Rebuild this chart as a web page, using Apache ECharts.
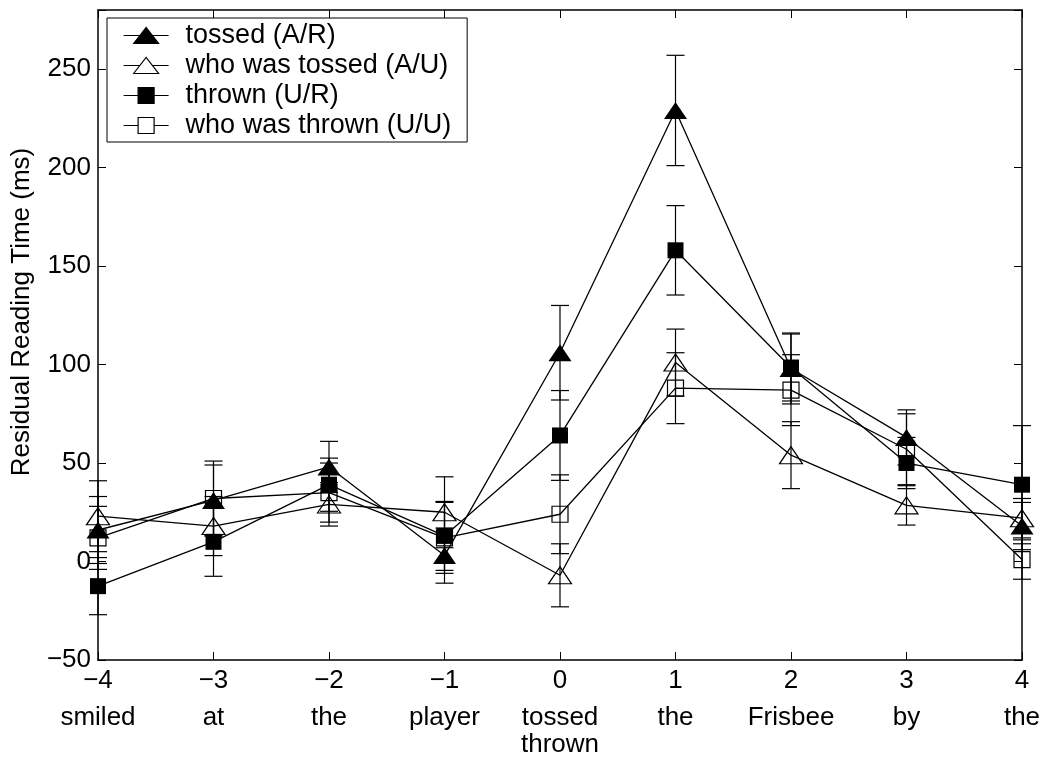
<!DOCTYPE html>
<html>
<head>
<meta charset="utf-8">
<script src="https://cdn.jsdelivr.net/npm/echarts@6/dist/echarts.min.js"></script>
<style>
  html, body { margin: 0; padding: 0; background: #fff; }
  #chart { width: 1047px; height: 762px; }
</style>
</head>
<body>
<div id="chart"></div>
<script>
// Posizioni nella frase e parole sotto l'asse
const positions = [-4, -3, -2, -1, 0, 1, 2, 3, 4];
const words = ['smiled', 'at', 'the', 'player', 'tossed\nthrown', 'the', 'Frisbee', 'by', 'the'];

// Medie e barre d'errore
const tossedAR = [16, 31, 48, 3, 106, 229, 98, 63, 18];
const tossedARErr = [17, 18, 13, 14, 24, 28, 18, 14, 12];
const whoTossedAU = [23, 18, 29, 25, -7, 101, 54, 28.5, 22];
const whoTossedAUErr = [18, 15, 11, 18, 16, 17, 17, 10, 10];
const thrownUR = [-12.5, 10, 39, 13, 64, 158, 98.5, 50, 39];
const thrownURErr = [14.5, 17.5, 13.5, 17.5, 22.8, 22.7, 17, 13, 30];
const whoThrownUU = [12, 32, 35, 12, 24, 88, 87, 57, 1];
const whoThrownUUErr = [16, 19, 15, 18, 20, 18, 18, 18, 10];

const FONT = "'Liberation Sans', Arial, sans-serif";
const minus = v => String(v).replace('-', '\u2212');

// Icone della legenda: linea + simbolo
const icons = {
  triFilled: 'path://M0 8L45 8M10 16L22.5 0L35 16Z',
  triOpen: 'path://M0 8L16.25 8M28.75 8L45 8M10 16L22.5 0L35 16Z',
  sqFilled: 'path://M0 8L45 8M14.5 0L30.5 0L30.5 16L14.5 16Z',
  sqOpen: 'path://M0 8L14.5 8M30.5 8L45 8M14.5 0L30.5 0L30.5 16L14.5 16Z'
};

function lineSeries(name, values, symbol, size, filled) {
  return {
    name,
    type: 'line',
    data: positions.map((x, i) => [x, values[i]]),
    symbol,
    symbolSize: size,
    showAllSymbol: true,
    lineStyle: { color: '#000', width: 1.3 },
    itemStyle: {
      color: filled ? '#000' : 'rgba(255,255,255,0)',
      borderColor: '#000',
      borderWidth: filled ? 0 : 1.2
    },
    emphasis: { disabled: true },
    z: 3
  };
}

function errorSeries(values, errs) {
  return {
    type: 'custom',
    data: positions.map((x, i) => [x, values[i], errs[i]]),
    encode: { x: 0, y: 1 },
    silent: true,
    z: 2,
    renderItem: (params, api) => {
      const x = api.value(0), y = api.value(1), e = api.value(2);
      const hi = api.coord([x, y + e]);
      const lo = api.coord([x, y - e]);
      const cap = 9;
      const style = { stroke: '#000', lineWidth: 1.2 };
      return {
        type: 'group',
        children: [
          { type: 'line', shape: { x1: hi[0], y1: hi[1], x2: lo[0], y2: lo[1] }, style },
          { type: 'line', shape: { x1: hi[0] - cap, y1: hi[1], x2: hi[0] + cap, y2: hi[1] }, style },
          { type: 'line', shape: { x1: lo[0] - cap, y1: lo[1], x2: lo[0] + cap, y2: lo[1] }, style }
        ]
      };
    }
  };
}

const axisLine = { onZero: false, lineStyle: { color: '#000', width: 1.5 } };
const axisTick = { inside: true, length: 8, lineStyle: { color: '#000', width: 1 } };

const option = {
  animation: false,
  backgroundColor: '#fff',
  textStyle: { fontFamily: FONT },
  grid: { left: 98, right: 25, top: 10, bottom: 102, containLabel: false, outerBoundsMode: 'none' },
  legend: {
    orient: 'vertical',
    left: 107,
    top: 18,
    padding: [4, 16, 3, 16],
    itemWidth: 45,
    itemHeight: 16,
    itemGap: 3,
    borderColor: '#000',
    borderWidth: 1,
    backgroundColor: '#fff',
    selectedMode: false,
    textStyle: { fontSize: 27, color: '#000', fontFamily: FONT, padding: [0, 0, 0, 12] },
    data: [
      { name: 'tossed (A/R)', icon: icons.triFilled, itemStyle: { color: '#000', borderColor: '#000', borderWidth: 1.2 } },
      { name: 'who was tossed (A/U)', icon: icons.triOpen, itemStyle: { color: '#fff', borderColor: '#000', borderWidth: 1.2 } },
      { name: 'thrown (U/R)', icon: icons.sqFilled, itemStyle: { color: '#000', borderColor: '#000', borderWidth: 1.2 } },
      { name: 'who was thrown (U/U)', icon: icons.sqOpen, itemStyle: { color: '#fff', borderColor: '#000', borderWidth: 1.2 } }
    ]
  },
  xAxis: [
    {
      type: 'value', min: -4, max: 4, interval: 1, position: 'bottom',
      axisLine, axisTick, splitLine: { show: false },
      axisLabel: {
        margin: 6,
        color: '#000',
        fontSize: 26,
        formatter: v => {
          const w = words[positions.indexOf(v)] || '';
          const lines = w.split('\n').map(s => `{w|${s}}`).join('\n');
          return `{n|${minus(v)}}\n{s| }\n${lines}`;
        },
        rich: {
          n: { fontSize: 26, lineHeight: 30, color: '#000', fontFamily: FONT },
          s: { fontSize: 1, lineHeight: 8 },
          w: { fontSize: 26, lineHeight: 27, color: '#000', fontFamily: FONT }
        }
      }
    },
    {
      type: 'value', min: -4, max: 4, interval: 1, position: 'top',
      axisLine, axisTick, splitLine: { show: false }, axisLabel: { show: false }
    }
  ],
  yAxis: [
    {
      type: 'value', min: -50, max: 280, interval: 50, position: 'left',
      axisLine, axisTick, splitLine: { show: false },
      axisLabel: {
        margin: 7, color: '#000', fontSize: 26, fontFamily: FONT,
        formatter: v => (v % 50 === 0 ? minus(v) : '')
      }
    },
    {
      type: 'value', min: -50, max: 280, interval: 50, position: 'right',
      axisLine, axisTick, splitLine: { show: false }, axisLabel: { show: false }
    }
  ],
  graphic: [
    {
      type: 'text',
      x: 22,
      y: 312,
      rotation: Math.PI / 2,
      style: {
        text: 'Residual Reading Time (ms)',
        fontSize: 26,
        fontFamily: FONT,
        fill: '#000',
        align: 'center',
        verticalAlign: 'middle'
      }
    }
  ],
  series: [
    errorSeries(tossedAR, tossedARErr),
    errorSeries(whoTossedAU, whoTossedAUErr),
    errorSeries(thrownUR, thrownURErr),
    errorSeries(whoThrownUU, whoThrownUUErr),
    lineSeries('tossed (A/R)', tossedAR, 'triangle', [23, 17], true),
    lineSeries('who was tossed (A/U)', whoTossedAU, 'triangle', [23, 17], false),
    lineSeries('thrown (U/R)', thrownUR, 'rect', [16, 16], true),
    lineSeries('who was thrown (U/U)', whoThrownUU, 'rect', [16, 16], false)
  ]
};

const chart = echarts.init(document.getElementById('chart'));
chart.setOption(option);
</script>
</body>
</html>
